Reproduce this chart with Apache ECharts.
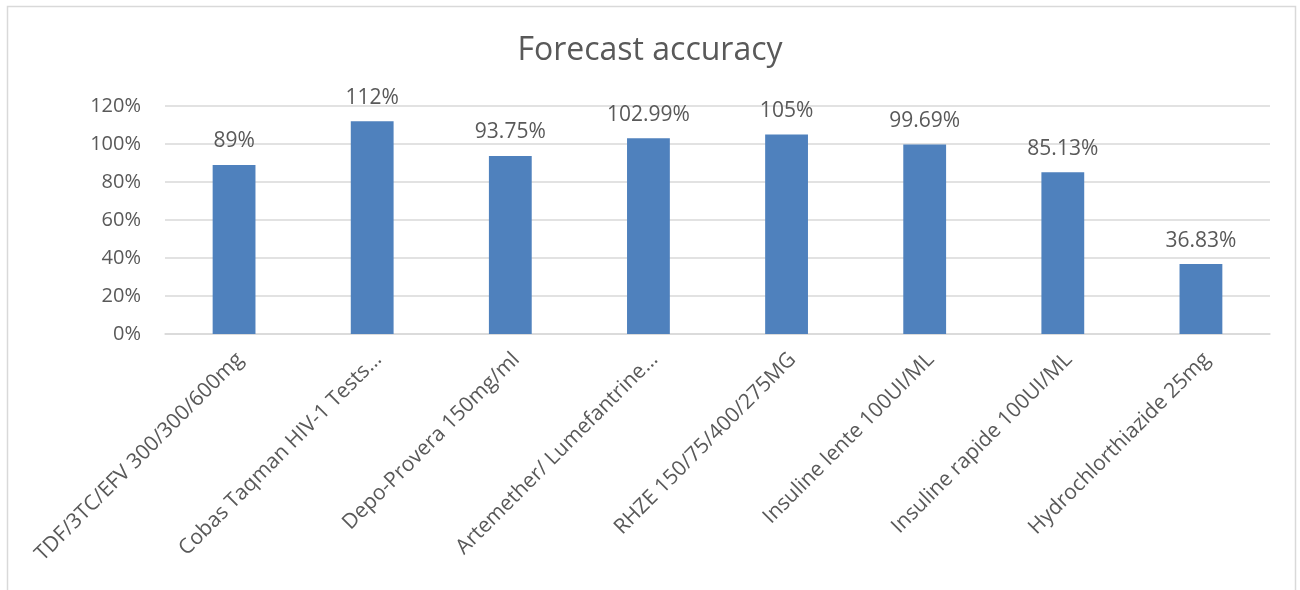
<!DOCTYPE html>
<html>
<head>
<meta charset="utf-8">
<script src="https://cdn.jsdelivr.net/npm/echarts@6/dist/echarts.min.js"></script>
<style>
  html, body { margin: 0; padding: 0; background: #fff; }
  #chart { width: 1300px; height: 590px; }
</style>
</head>
<body>
<div id="chart"></div>
<script>
// Products reviewed and their forecast accuracy (%)
const categories = [
  'TDF/3TC/EFV 300/300/600mg',
  'Cobas Taqman HIV-1 Tests…',
  'Depo-Provera 150mg/ml',
  'Artemether/ Lumefantrine…',
  'RHZE 150/75/400/275MG',
  'Insuline lente 100UI/ML',
  'Insuline rapide 100UI/ML',
  'Hydrochlorthiazide 25mg'
];
const accuracy = [89, 112, 93.75, 102.99, 105, 99.69, 85.13, 36.83];
const yTicks = [0, 20, 40, 60, 80, 100, 120];

const textColor = '#595959';
const fontFamily = '"Open Sans", "Noto Sans", sans-serif';

const chart = echarts.init(document.getElementById('chart'));
chart.setOption({
  animation: false,
  backgroundColor: '#fff',
  textStyle: { fontFamily: fontFamily },
  graphic: [{
    type: 'rect',
    shape: { x: 7.5, y: 6.5, width: 1288, height: 620 },
    style: { fill: 'none', stroke: '#d9d9d9', lineWidth: 1.5 },
    silent: true
  }],
  title: {
    text: 'Forecast accuracy',
    left: 'center',
    top: 30,
    textStyle: { color: textColor, fontSize: 32, fontWeight: 'normal', fontFamily: fontFamily }
  },
  grid: { left: 165, right: 30, top: 106, bottom: 256, containLabel: false },
  xAxis: {
    type: 'category',
    data: categories,
    axisLine: { lineStyle: { color: '#d9d9d9', width: 1.5 } },
    axisTick: { show: false },
    axisLabel: {
      rotate: 45,
      interval: 0,
      margin: 5,
      verticalAlign: 'top',
      padding: [6, 8, 0, 0],
      color: textColor,
      fontSize: 21,
      fontFamily: fontFamily
    }
  },
  yAxis: {
    type: 'value',
    min: yTicks[0],
    max: yTicks[yTicks.length - 1],
    interval: 20,
    axisLine: { show: false },
    axisTick: { show: false },
    splitLine: { lineStyle: { color: '#d9d9d9', width: 1.5 } },
    axisLabel: {
      margin: 24,
      color: textColor,
      fontSize: 20,
      fontFamily: fontFamily,
      formatter: v => v + '%'
    }
  },
  series: [{
    type: 'bar',
    data: accuracy,
    barWidth: '31%',
    itemStyle: { color: '#4F81BD' },
    label: {
      show: true,
      position: 'top',
      distance: 13,
      color: textColor,
      fontSize: 21,
      fontFamily: fontFamily,
      formatter: p => p.value + '%'
    }
  }]
});
</script>
</body>
</html>
